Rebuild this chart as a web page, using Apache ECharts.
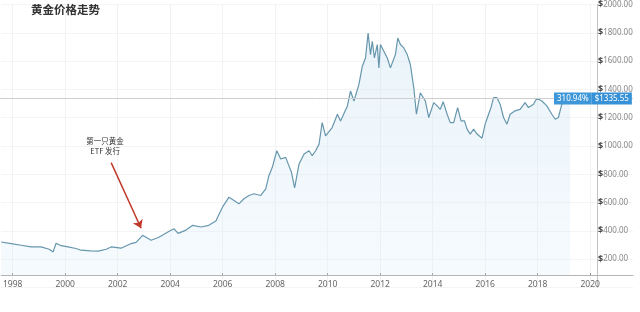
<!DOCTYPE html>
<html>
<head>
<meta charset="utf-8">
<title>黄金价格走势</title>
<script src="https://cdn.jsdelivr.net/npm/echarts@6/dist/echarts.min.js"></script>
<style>
	html,body{margin:0;padding:0;background:#fff;}
	#chart{width:640px;height:312px;}
</style>
</head>
<body>
<div id="chart"></div>
<script>
// 时间（年）与金价（美元/盎司）
var years = [1997.56,1997.94,1998.32,1998.70,1999.08,1999.39,1999.54,1999.65,1999.84,2000.11,
	2000.41,2000.60,2000.98,2001.25,2001.56,2001.75,2002.13,2002.51,2002.70,2002.95,
	2003.27,2003.57,2003.91,2004.14,2004.30,2004.60,2004.86,2005.17,2005.47,2005.74,
	2005.93,2005.99,2006.24,2006.43,2006.62,2006.81,2007.00,2007.19,2007.45,2007.64,
	2007.76,2007.89,2008.06,2008.21,2008.40,2008.52,2008.62,2008.74,2008.91,2009.10,
	2009.29,2009.41,2009.54,2009.67,2009.79,2009.92,2010.17,2010.37,2010.49,2010.75,
	2010.87,2011.00,2011.19,2011.32,2011.44,2011.54,2011.63,2011.70,2011.78,2011.89,
	2011.95,2012.01,2012.14,2012.27,2012.39,2012.58,2012.67,2012.77,2012.90,2013.03,
	2013.15,2013.28,2013.38,2013.53,2013.72,2013.85,2014.04,2014.17,2014.29,2014.40,
	2014.55,2014.67,2014.80,2014.95,2015.08,2015.21,2015.31,2015.43,2015.56,2015.69,
	2015.88,2016.00,2016.13,2016.22,2016.32,2016.45,2016.57,2016.70,2016.83,2016.95,
	2017.14,2017.33,2017.52,2017.65,2017.84,2017.97,2018.16,2018.35,2018.54,2018.67,
	2018.79,2018.92,2019.08,2019.24];
var prices = [321,310,298,286,286,270,251,312,295,286,
	275,263,258,256,270,286,277,310,318,368,
	333,355,392,415,382,405,439,427,439,470,
	544,567,638,615,591,627,650,662,650,697,
	790,849,966,908,919,861,814,704,873,943,
	966,931,966,1013,1165,1071,1130,1224,1177,1283,
	1388,1318,1435,1564,1622,1798,1646,1740,1622,1717,
	1552,1717,1670,1622,1552,1646,1763,1717,1693,1646,
	1576,1411,1224,1376,1318,1201,1306,1283,1259,1313,
	1224,1165,1165,1271,1177,1177,1119,1084,1119,1084,
	1055,1154,1224,1271,1341,1341,1295,1201,1154,1224,
	1248,1259,1306,1271,1295,1337,1318,1283,1224,1189,
	1201,1295,1320,1335.55];

var yearTicks = [1998,2000,2002,2004,2006,2008,2010,2012,2014,2016,2018,2020];
var lastPrice = 1335.55;
var lastChange = '310.94%';
var etfText = '第一只黄金\nETF 发行';
var etfArrowFrom = [2001.75, 882];
var etfArrowTo = [2002.89, 418];
var etfTextAt = [2001.52, 1000];
var baseValue = 87;

var points = [];
for(var i=0;i<years.length;i++){
	points.push([years[i],prices[i]]);
}

var myChart = echarts.init(document.getElementById('chart'));

var option = {
	animation: false,
	textStyle: {fontFamily: '"Noto Sans", "Noto Sans CJK SC", sans-serif'},
	title: {
		text: '黄金价格走势',
		left: 26,
		top: -1,
		textStyle: {fontSize: 11.5, fontWeight: 'bold', color: '#333', fontFamily: '"Noto Sans CJK SC", sans-serif'}
	},
	grid: {left: 0, right: 7, top: 3, bottom: 24.6, containLabel: false},
	xAxis: {
		type: 'value',
		min: 1997.563,
		max: 2021.632,
		offset: -12.4,
		axisLine: {lineStyle: {color: '#b5b5b5', width: 1}},
		axisTick: {show: true, inside: true, length: 2, customValues: yearTicks, lineStyle: {color: '#888'}},
		axisLabel: {
			color: '#666',
			fontSize: 8.5,
			margin: 5,
			customValues: yearTicks,
			formatter: function(v){ return String(v); }
		},
		splitLine: {show: true, lineStyle: {color: '#f2f2f2'}}
	},
	yAxis: {
		type: 'value',
		position: 'right',
		min: 0,
		max: 2000,
		interval: 200,
		offset: -36,
		axisLine: {show: true, lineStyle: {color: '#c4c4c4'}},
		axisTick: {show: false},
		axisLabel: {
			margin: 1,
			formatter: function(v){
				if(v == 0) return '';
				return '{d|$}{v|' + v.toFixed(2) + '}';
			},
			rich: {
				d: {fontSize: 9, color: '#444', fontWeight: 'bold'},
				v: {fontSize: 8, color: '#888'}
			}
		},
		splitLine: {show: true, lineStyle: {color: '#f4f4f4'}}
	},
	series: [{
		type: 'line',
		data: points,
		showSymbol: false,
		symbol: 'none',
		lineStyle: {color: '#6797ad', width: 1.2},
		areaStyle: {
			origin: baseValue,
			color: new echarts.graphic.LinearGradient(0,0,0,1,[
				{offset: 0, color: 'rgba(200,226,242,0.55)'},
				{offset: 1, color: 'rgba(225,240,250,0.45)'}
			])
		},
		markLine: {
			silent: true,
			animation: false,
			data: [
				[{
					yAxis: lastPrice,
					x: 0,
					symbol: 'none',
					lineStyle: {color: '#cfcfcf', width: 1, type: 'solid'},
					label: {
						show: true,
						position: 'end',
						distance: [-79, 0],
						formatter: '{a|' + lastChange + '}{b|$' + lastPrice.toFixed(2) + '}',
						rich: {
							a: {color: '#fff', fontSize: 8, backgroundColor: '#3d97d8', padding: [2,3,2,3]},
							b: {color: '#fff', fontSize: 8, backgroundColor: '#3791d6', padding: [2,3,2,3]}
						}
					}
				}, {
					yAxis: lastPrice,
					x: 633
				}],
				[{
					coord: etfArrowFrom,
					symbol: 'none',
					lineStyle: {color: '#c0392b', width: 1.5, type: 'solid'},
					label: {show: false}
				}, {
					coord: etfArrowTo,
					symbol: 'arrow',
					symbolSize: 8
				}]
			]
		},
		markPoint: {
			silent: true,
			symbol: 'circle',
			symbolSize: 0,
			data: [{
				coord: etfTextAt,
				label: {
					show: true,
					formatter: etfText,
					color: '#333',
					fontSize: 7.5,
					lineHeight: 10,
					fontFamily: '"Noto Sans CJK SC", sans-serif'
				}
			}]
		}
	}]
};

myChart.setOption(option);
</script>
</body>
</html>
